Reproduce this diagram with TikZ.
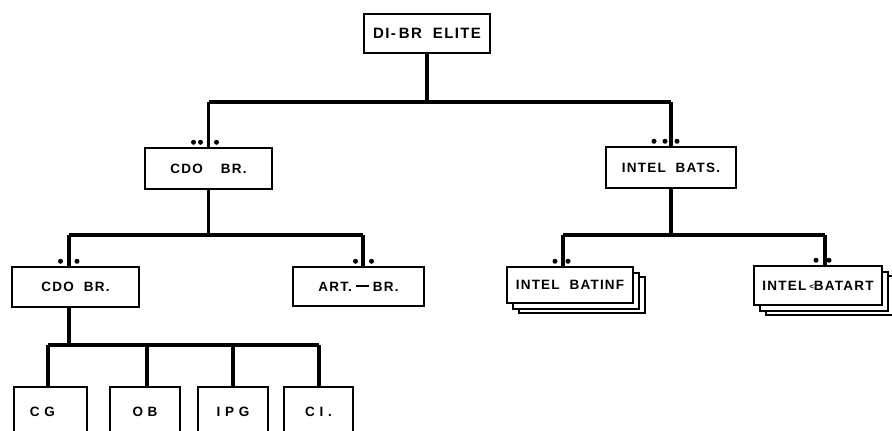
\documentclass[tikz,border=0pt]{standalone}
\usepackage{fontspec}
\newfontfamily\lab[LetterSpace=9,WordSpace=2]{Liberation Sans}
\newfontfamily\labw[LetterSpace=35]{Liberation Sans}
\begin{document}
\begin{tikzpicture}[x=1pt,y=-1pt,
  box/.style={draw,line width=1.5pt,fill=white,rectangle,inner sep=0pt,font=\lab\bfseries\fontsize{13.5}{15}\selectfont},
  lowbox/.style={box,font=\labw\bfseries\fontsize{13.5}{15}\selectfont},
  conn/.style={line width=3.2pt},
  dot/.style={fill,circle,inner sep=0pt,minimum size=5pt}]
\useasboundingbox (0,0) rectangle (892,431);
\clip (0,0) rectangle (892,431);
% nodes
\node[box,minimum width=126pt,minimum height=39pt,font=\lab\bfseries\fontsize{15}{17}\selectfont] (top) at (427,33.5) {DI-\hspace{3pt}BR ELITE};
\node[box,minimum width=127pt,minimum height=41pt] (cdoA) at (208.5,168.5) {CDO\hspace{18pt}BR.};
\node[box,minimum width=130pt,minimum height=41pt] (bats) at (671,167.5) {INTEL BATS.};
\node[box,minimum width=127pt,minimum height=40pt] (cdoB) at (75.5,287) {CDO BR.};
\node[box,minimum width=131pt,minimum height=39pt] (art) at (358.5,286.5) {ART.\hspace{4pt}\raisebox{4pt}{\rule{13pt}{1.7pt}}\hspace{4pt}BR.};
% stacked boxes
\node[box,minimum width=126pt,minimum height=36pt] (infC) at (582,295) {};
\node[box,minimum width=126pt,minimum height=36pt] (infB) at (576,291) {};
\node[box,minimum width=126pt,minimum height=36pt] (inf) at (570,285) {INTEL BATINF};
\node[box,minimum width=128pt,minimum height=39pt] (artC) at (830,295.5) {};
\node[box,minimum width=128pt,minimum height=39pt] (artB) at (824,291.5) {};
\node[box,minimum width=128pt,minimum height=39pt] (bart) at (818,285.5) {INTEL\hspace{3pt}\raisebox{.5pt}{\footnotesize\textless}BATART};
% bottom boxes
\node[lowbox,minimum width=73pt,minimum height=50pt,text width=73pt,align=left] (cg) at (50.5,412) {\hspace{16pt}CG};
\node[lowbox,minimum width=70pt,minimum height=50pt] (ob) at (145,412) {OB};
\node[lowbox,minimum width=70pt,minimum height=50pt] (ipg) at (233,412) {IPG};
\node[lowbox,minimum width=69pt,minimum height=50pt] (ci) at (318.5,412) {CI.};
% coordinates
\coordinate (b1) at (0,102);
\coordinate (b2) at (0,235);
\coordinate (b3) at (0,345);
% connectors level 1
\draw[conn] (top.south) -- (top.south |- b1);
\draw[conn] (cdoA.north |- b1) -- (bats.north |- b1);
\draw[conn] (cdoA.north |- b1) -- (cdoA.north);
\draw[conn] (bats.north |- b1) -- (bats.north);
% level 2 left
\draw[conn] (cdoA.south) -- (cdoA.south |- b2);
\draw[conn] ([xshift=-6.5pt]cdoB.north |- b2) -- ([xshift=4.5pt]art.north |- b2);
\draw[conn] ([xshift=-6.5pt]cdoB.north |- b2) -- ([xshift=-6.5pt]cdoB.north);
\draw[conn] ([xshift=4.5pt]art.north |- b2) -- ([xshift=4.5pt]art.north);
% level 2 right
\draw[conn] (bats.south) -- (bats.south |- b2);
\draw[conn] ([xshift=-7pt]inf.north |- b2) -- ([xshift=7pt]bart.north |- b2);
\draw[conn] ([xshift=-7pt]inf.north |- b2) -- ([xshift=-7pt]inf.north);
\draw[conn] ([xshift=7pt]bart.north |- b2) -- ([xshift=7pt]bart.north);
% level 3
\draw[conn] ([xshift=-6.5pt]cdoB.south) -- ([xshift=-6.5pt]cdoB.south |- b3);
\draw[conn] ([xshift=-2.5pt]cg.north |- b3) -- ([xshift=0.5pt]ci.north |- b3);
\draw[conn] ([xshift=-2.5pt]cg.north |- b3) -- ([xshift=-2.5pt]cg.north);
\draw[conn] ([xshift=2pt]ob.north |- b3) -- ([xshift=2pt]ob.north);
\draw[conn] (ipg.north |- b3) -- (ipg.north);
\draw[conn] ([xshift=0.5pt]ci.north |- b3) -- ([xshift=0.5pt]ci.north);
% dots
\node[dot] (dA1) at ([xshift=-15pt,yshift=5pt]cdoA.north) {};
\node[dot] (dA2) at ([xshift=-8pt,yshift=5pt]cdoA.north) {};
\node[dot] (dA3) at ([xshift=8pt,yshift=5pt]cdoA.north) {};
\node[dot] (dB1) at ([xshift=-17pt,yshift=5pt]bats.north) {};
\node[dot] (dB2) at ([xshift=-6pt,yshift=5pt]bats.north) {};
\node[dot] (dB3) at ([xshift=6pt,yshift=5pt]bats.north) {};
\node[dot] (dC1) at ([xshift=-15pt,yshift=5pt]cdoB.north) {};
\node[dot] (dC2) at ([xshift=1.5pt,yshift=5pt]cdoB.north) {};
\node[dot] (dD1) at ([xshift=-3pt,yshift=5pt]art.north) {};
\node[dot] (dD2) at ([xshift=13pt,yshift=5pt]art.north) {};
\node[dot] (dE1) at ([xshift=-15pt,yshift=5pt]inf.north) {};
\node[dot] (dE2) at ([xshift=-2pt,yshift=5pt]inf.north) {};
\node[dot] (dF1) at ([xshift=-2pt,yshift=5pt]bart.north) {};
\node[dot] (dF2) at ([xshift=11pt,yshift=5pt]bart.north) {};
\end{tikzpicture}
\end{document}
